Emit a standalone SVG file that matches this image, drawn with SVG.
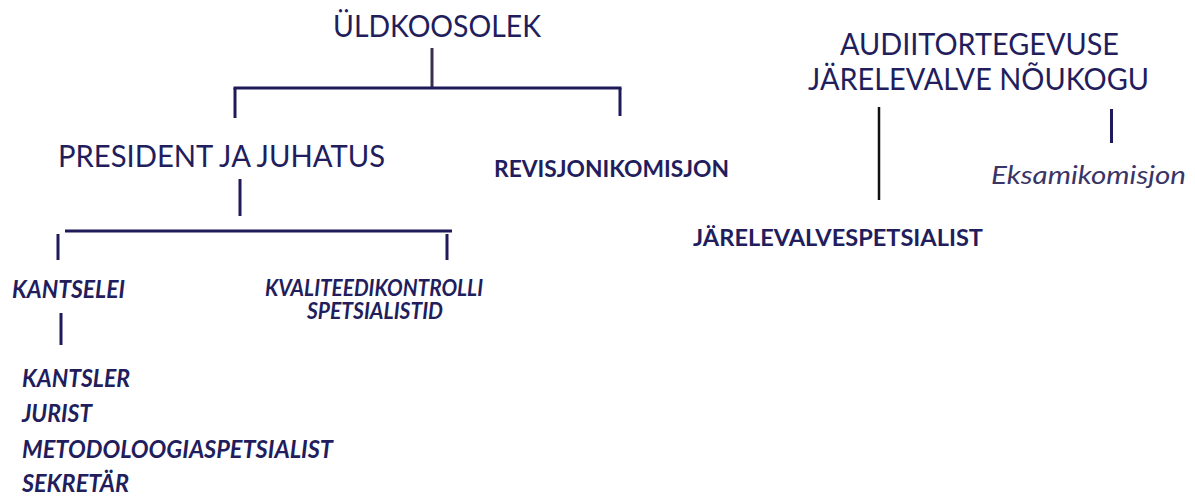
<svg xmlns="http://www.w3.org/2000/svg" width="1195" height="497" viewBox="0 0 1195 497">
<style>
text{font-family:Lato,"Open Sans",sans-serif;fill:#221d5c}
.h{font-size:30px;font-weight:400}
.b{font-size:23px;font-weight:700}
.i{font-size:24px;font-weight:700;font-style:italic}
.k{font-size:22px}
.e{font-size:25px;font-weight:400;font-style:italic;fill:#3a3566}
.c line{stroke:#1f1a5a;stroke-width:3}
</style>
<rect width="1195" height="497" fill="#fff"/>
<g id="n-uldkoosolek"><text class="h" x="333" y="37" textLength="208" lengthAdjust="spacingAndGlyphs">ÜLDKOOSOLEK</text></g>
<g id="n-president"><text class="h" x="58" y="167" textLength="327" lengthAdjust="spacingAndGlyphs" style="font-size:31px">PRESIDENT JA JUHATUS</text></g>
<g id="n-revisjon"><text class="b" x="494" y="177" textLength="235" lengthAdjust="spacingAndGlyphs">REVISJONIKOMISJON</text></g>
<g id="n-noukogu"><text class="h"><tspan x="840" y="55" textLength="279" lengthAdjust="spacingAndGlyphs">AUDIITORTEGEVUSE</tspan><tspan x="808" y="90" textLength="341" lengthAdjust="spacingAndGlyphs">JÄRELEVALVE NÕUKOGU</tspan></text></g>
<g id="n-eksam"><text class="e" x="991" y="184" textLength="195" lengthAdjust="spacingAndGlyphs">Eksamikomisjon</text></g>
<g id="n-jarelevalvespetsialist"><text class="b" x="693" y="246" textLength="290" lengthAdjust="spacingAndGlyphs">JÄRELEVALVESPETSIALIST</text></g>
<g id="n-kantselei"><text class="i" x="12" y="298" textLength="113" lengthAdjust="spacingAndGlyphs">KANTSELEI</text></g>
<g id="n-kvaliteet"><text class="i k"><tspan x="265" y="296" textLength="218" lengthAdjust="spacingAndGlyphs">KVALITEEDIKONTROLLI</tspan><tspan x="307" y="319" textLength="136" lengthAdjust="spacingAndGlyphs">SPETSIALISTID</tspan></text></g>
<g id="n-kantselei-staff">
<text class="i" x="22" y="387" textLength="108" lengthAdjust="spacingAndGlyphs">KANTSLER</text>
<text class="i" x="22" y="422" textLength="70" lengthAdjust="spacingAndGlyphs">JURIST</text>
<text class="i" x="22" y="458" textLength="311" lengthAdjust="spacingAndGlyphs">METODOLOOGIASPETSIALIST</text>
<text class="i" x="22" y="492" textLength="107" lengthAdjust="spacingAndGlyphs">SEKRETÄR</text>
</g>
<g id="connectors" class="c">
<line x1="432" y1="48" x2="432" y2="88" style="stroke:#3a2f4f"/>
<line x1="233.5" y1="88" x2="621.5" y2="88"/>
<line x1="235" y1="88" x2="235" y2="118"/>
<line x1="620" y1="88" x2="620" y2="116"/>
<line x1="240" y1="179" x2="240" y2="216"/>
<line x1="65" y1="231" x2="452" y2="231"/>
<line x1="58" y1="234" x2="58" y2="260"/>
<line x1="447" y1="234" x2="447" y2="260"/>
<line x1="61" y1="313" x2="61" y2="345"/>
<line x1="879" y1="107" x2="879" y2="200" style="stroke:#111;stroke-width:2.5"/>
<line x1="1111.5" y1="109" x2="1111.5" y2="143"/>
</g>
</svg>
